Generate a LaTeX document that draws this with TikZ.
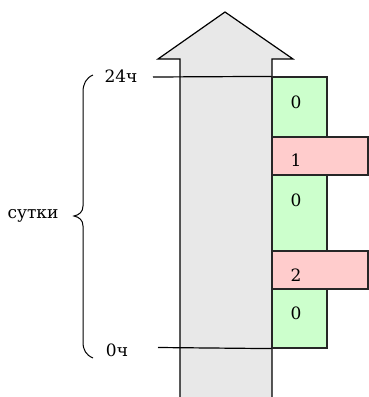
\documentclass[tikz,border=0pt]{standalone}
\usepackage{fontspec}
\setmainfont{DejaVu Serif}
\begin{document}
\begin{tikzpicture}[x=1pt,y=-1pt,
  line width=1.2pt,
  greenbox/.style={draw=black!85,fill=green!20,minimum width=55pt,inner sep=0pt},
  pinkbox/.style={draw=black!85,fill=red!20,minimum width=96pt,inner sep=0pt},
  lbl/.style={font=\fontsize{17}{19}\selectfont,inner sep=0pt},
  txt/.style={font=\fontsize{17}{19}\selectfont,inner sep=0pt}]
\useasboundingbox (0,0) rectangle (368,397);
% big arrow
\fill[black!9] (180,398) -- (180,59) -- (158,59) -- (225,12) -- (293,59) -- (272,59) -- (272,398) -- cycle;
\draw (180,398) -- (180,59) -- (158,59) -- (225,12) -- (293,59) -- (272,59) -- (272,398);
% boxes
\node[greenbox,minimum height=60pt] (g1) at (299.5,107) {};
\node[greenbox,minimum height=76pt] (g2) at (299.5,213) {};
\node[greenbox,minimum height=59pt] (g3) at (299.5,318.5) {};
\node[pinkbox,minimum height=38pt] (p1) at (320,156) {};
\node[pinkbox,minimum height=38pt] (p2) at (320,270) {};
\node[lbl] (l1) at (296,102) {0};
\node[lbl] (l2) at (296,160) {1};
\node[lbl] (l3) at (296,200) {0};
\node[lbl] (l4) at (296,275) {2};
\node[lbl] (l5) at (296,313) {0};
% time labels and lines
\node[txt] (t24) at (121,76) {24ч};
\node[txt] (t0) at (117,350) {0ч};
\coordinate (a24) at (153,77);
\coordinate (a0) at (158,347.5);
\draw (a24) -- (g1.north west);
\draw (a0) -- (g3.south west);
% brace
\draw[line width=1pt] (93,75) .. controls (86,78) and (83,84) .. (83,92) -- (83,206)
  .. controls (83,212) and (79,215) .. (74,216)
  .. controls (79,217) and (83,220) .. (83,226) -- (83,342)
  .. controls (83,350) and (86,355) .. (93,358);
\node[txt] (s) at (33,216) {сутки};
\end{tikzpicture}
\end{document}
